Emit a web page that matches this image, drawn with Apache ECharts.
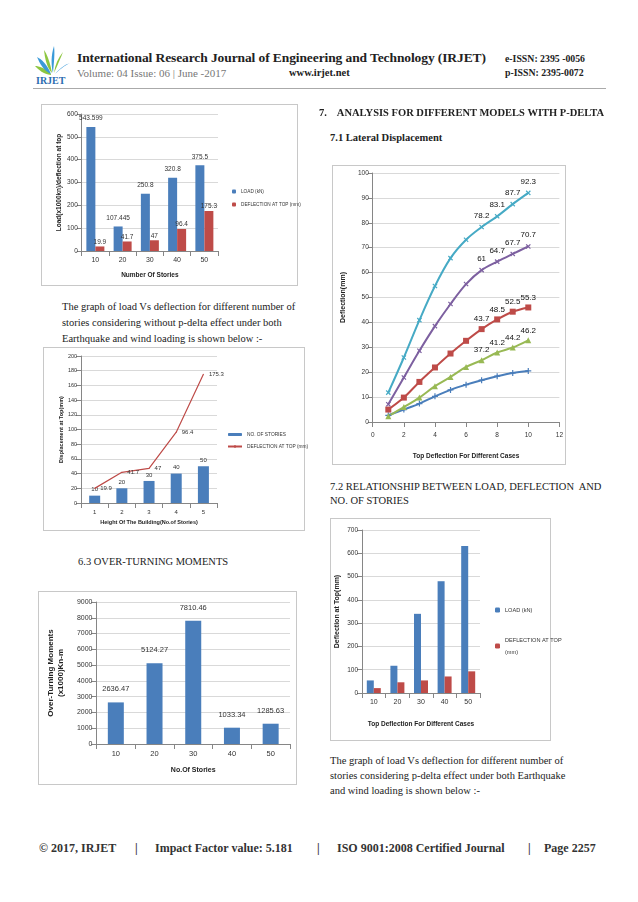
<!DOCTYPE html>
<html><head><meta charset="utf-8">
<script src="https://cdn.jsdelivr.net/npm/echarts@6/dist/echarts.min.js"></script>
<style>
html,body{margin:0;padding:0;background:#fff;}
body{width:638px;height:902px;position:relative;overflow:hidden;font-family:"Liberation Serif","DejaVu Serif",serif;}
.t{position:absolute;white-space:nowrap;color:#222;}
.b{font-weight:bold;}
.box{position:absolute;border:1px solid #c8c8c8;box-sizing:border-box;background:#fff;}
.ch{position:absolute;}
</style></head>
<body>
<!-- header -->
<svg style="position:absolute;left:33px;top:44px" width="42" height="42" viewBox="0 0 42 42">
  <path d="M18,30 C12,24 6,22 2,22 C6,26 10,30 18,31Z" fill="#8dc63f"/>
  <path d="M18,30 C14,20 8,15 4,13 C7,20 11,27 18,30Z" fill="#3a9ad9"/>
  <path d="M19,29 C17,18 14,10 11,6 C12,15 14,24 19,29Z" fill="#8dc63f"/>
  <path d="M20,29 C21,18 22,9 21,2 C18,11 18,21 20,29Z" fill="#3a9ad9"/>
  <path d="M21,29 C25,20 28,13 30,8 C25,14 22,21 21,29Z" fill="#8dc63f"/>
  <path d="M22,30 C28,24 33,21 37,19 C31,21 26,25 22,30Z" fill="#3a9ad9"/>
  <text x="3" y="40" font-family="Liberation Serif" font-size="10" fill="#2b6cb0" font-weight="bold">IRJET</text>
</svg>
<div class="t b" style="left:77px;top:50px;font-size:13.5px;letter-spacing:-0.1px">International Research Journal of Engineering and Technology (IRJET)</div>
<div class="t b" style="left:505px;top:53px;font-size:9.8px">e-ISSN: 2395 -0056</div>
<div class="t" style="left:77px;top:67px;font-size:11px;color:#777">Volume: 04 Issue: 06 | June -2017</div>
<div class="t b" style="left:289px;top:67px;font-size:10.5px">www.irjet.net</div>
<div class="t b" style="left:505px;top:67px;font-size:9.8px">p-ISSN: 2395-0072</div>
<div style="position:absolute;left:33px;top:88px;width:573px;height:1px;background:#aaa"></div>

<!-- left column -->
<div class="box" style="left:41px;top:104px;width:257px;height:182px"></div>
<div id="c1" class="ch" style="left:41px;top:104px;width:280px;height:182px"></div>
<div class="t" style="left:62px;top:299px;font-size:10.5px;line-height:16px">The graph of load Vs deflection for different number of<br>stories considering without p-delta effect under both<br>Earthquake and wind loading is shown below :-</div>
<div class="box" style="left:43px;top:347px;width:262px;height:184px"></div>
<div id="c2" class="ch" style="left:43px;top:347px;width:280px;height:184px"></div>
<div class="t" style="left:78px;top:556px;font-size:10.5px">6.3 OVER-TURNING MOMENTS</div>
<div class="box" style="left:38px;top:591px;width:259px;height:194px"></div>
<div id="c3" class="ch" style="left:38px;top:591px;width:259px;height:194px"></div>

<!-- right column -->
<div class="t b" style="left:319px;top:107px;font-size:10.5px">7.&nbsp;&nbsp;&nbsp; ANALYSIS FOR DIFFERENT MODELS WITH P-DELTA</div>
<div class="t b" style="left:330px;top:132px;font-size:10.5px">7.1 Lateral Displacement</div>
<div class="box" style="left:332px;top:165px;width:234px;height:300px"></div>
<div id="c4" class="ch" style="left:332px;top:165px;width:234px;height:300px"></div>
<div class="t" style="left:330px;top:480px;font-size:10.5px;line-height:13.5px">7.2 RELATIONSHIP BETWEEN LOAD, DEFLECTION&nbsp; AND<br>NO. OF STORIES</div>
<div class="box" style="left:330px;top:518px;width:221px;height:223px"></div>
<div id="c5" class="ch" style="left:330px;top:518px;width:240px;height:223px"></div>
<div class="t" style="left:330px;top:753px;font-size:10.5px;line-height:15px">The graph of load Vs deflection for different number of<br>stories considering p-delta effect under both Earthquake<br>and wind loading is shown below :-</div>

<!-- footer -->
<div class="t b" style="left:39px;top:841px;font-size:12px;color:#333">© 2017, IRJET</div>
<div class="t b" style="left:135px;top:841px;font-size:12px;color:#333">|</div>
<div class="t b" style="left:155px;top:841px;font-size:12px;color:#333">Impact Factor value: 5.181</div>
<div class="t b" style="left:317px;top:841px;font-size:12px;color:#333">|</div>
<div class="t b" style="left:337px;top:841px;font-size:12px;color:#333">ISO 9001:2008 Certified Journal</div>
<div class="t b" style="left:528px;top:841px;font-size:12px;color:#333">|</div>
<div class="t b" style="left:544px;top:841px;font-size:12px;color:#333">Page 2257</div>

<script>
// ---------- data ----------
const c1Categories = ['10', '20', '30', '40', '50'];
const c1Load = [543.599, 107.445, 250.8, 320.8, 375.5];
const c1Defl = [19.9, 41.7, 47, 96.4, 175.3];

const c2Categories = ['1', '2', '3', '4', '5'];
const c2Stories = [10, 20, 30, 40, 50];
const c2Defl = [19.9, 41.7, 47, 96.4, 175.3];

const c3Categories = ['10', '20', '30', '40', '50'];
const c3Moments = [2636.47, 5124.27, 7810.46, 1033.34, 1285.63];

const c4X = [1, 2, 3, 4, 5, 6, 7, 8, 9, 10];
const c4Blue = [2.7, 5, 7.4, 10.3, 12.9, 15, 16.8, 18.4, 19.7, 20.5];
const c4Green = [2.3, 6, 9.8, 14.4, 18.1, 22.1, 24.8, 27.9, 29.9, 32.8];
const c4Red = [5, 9.8, 16.1, 21.9, 27.5, 32.6, 37.3, 41.2, 44.3, 46];
const c4Purple = [7.1, 17.9, 28.6, 38.5, 47.4, 55.4, 61, 64.4, 67.5, 70.5];
const c4Cyan = [11.8, 25.9, 40.9, 54.6, 65.8, 73.2, 78.3, 82.6, 87.5, 92];
const c4GreenLabels = ['', '', '', '', '', '', '37.2', '41.2', '44.2', '46.2'];
const c4RedLabels = ['', '', '', '', '', '', '43.7', '48.5', '52.5', '55.3'];
const c4PurpleLabels = ['', '', '', '', '', '', '61', '64.7', '67.7', '70.7'];
const c4CyanLabels = ['', '', '', '', '', '', '78.2', '83.1', '87.7', '92.3'];

const c5Categories = ['10', '20', '30', '40', '50'];
const c5Load = [54, 117, 340, 480, 631];
const c5Defl = [21, 46, 54, 71, 93];

// ---------- style ----------
const FONT = '"Liberation Sans Narrow","Liberation Sans",sans-serif';
const BLUE = '#4a7ebb', RED = '#be4b48', GREEN = '#98b954', PURPLE = '#7d60a0', CYAN = '#46aac5';
const AX = '#868686', GRID = '#d9d9d9', TXT = '#333';
const plain = v => String(v);

function catAxis(data, size, name, gap, extra) {
  return Object.assign({
    type: 'category', data: data,
    axisLine: {lineStyle: {color: AX}}, axisTick: {show: true, lineStyle: {color: AX}},
    axisLabel: {color: TXT, fontSize: size, fontFamily: FONT, margin: 6},
    name: name, nameLocation: 'middle', nameGap: gap,
    nameTextStyle: {color: '#222', fontSize: size - 0.5, fontWeight: 'bold', fontFamily: FONT}
  }, extra || {});
}
function valAxis(min, max, interval, size, name, gap, extra) {
  return Object.assign({
    type: 'value', min: min, max: max, interval: interval,
    axisLine: {show: true, lineStyle: {color: AX}}, axisTick: {show: true, lineStyle: {color: AX}},
    splitLine: {lineStyle: {color: GRID}},
    axisLabel: {color: TXT, fontSize: size, fontFamily: FONT, margin: 4, formatter: plain},
    name: name, nameLocation: 'middle', nameGap: gap, nameRotate: 90,
    nameTextStyle: {color: '#222', fontSize: size, fontWeight: 'bold', fontFamily: FONT}
  }, extra || {});
}

// ---------- chart 1 ----------
echarts.init(document.getElementById('c1')).setOption({
  animation: false,
  grid: {left: 27, width: 150, top: 10, bottom: 35},
  legend: {orient: 'vertical', left: 186, top: 80, itemWidth: 4, itemHeight: 4, itemGap: 8,
    textStyle: {fontSize: 4.7, color: TXT, fontFamily: FONT}},
  xAxis: catAxis(c1Categories, 7, 'Number Of Stories', 21),
  yAxis: valAxis(0, 600, 100, 6.5, 'Load(x1000kn)/deflection at top', 16),
  series: [
    {name: 'LOAD (kN)', type: 'bar', data: c1Load, barWidth: 9, barGap: '0%', itemStyle: {color: BLUE},
      label: {show: true, position: 'top', fontSize: 6.5, color: TXT, fontFamily: FONT, distance: 5, formatter: p => plain(p.value)}},
    {name: 'DEFLECTION AT TOP (mm)', type: 'bar', data: c1Defl, barWidth: 9, itemStyle: {color: RED},
      label: {show: true, position: 'top', fontSize: 6.5, color: TXT, fontFamily: FONT, distance: 1}}
  ]
});

// ---------- chart 2 ----------
echarts.init(document.getElementById('c2')).setOption({
  animation: false,
  grid: {left: 28, width: 146, top: 9, bottom: 28},
  legend: {orient: 'vertical', left: 179, top: 80, itemWidth: 14, itemHeight: 3, itemGap: 7,
    textStyle: {fontSize: 4.8, color: TXT, fontFamily: FONT}},
  xAxis: catAxis(c2Categories, 6, 'Height Of The Building(No.of Stories)', 15),
  yAxis: valAxis(0, 200, 20, 5.5, 'Displacement at Top(mm)', 17),
  series: [
    {name: 'NO. OF STORIES', type: 'bar', data: c2Stories, barWidth: 11, itemStyle: {color: BLUE},
      label: {show: true, position: 'top', fontSize: 6, color: TXT, fontFamily: FONT, distance: 3}},
    {name: 'DEFLECTION AT TOP (mm)', type: 'line', data: c2Defl, symbol: 'circle', symbolSize: 1,
      lineStyle: {color: RED, width: 1.2}, itemStyle: {color: RED},
      label: {show: true, position: 'right', fontSize: 6, color: TXT, fontFamily: FONT, distance: 5}}
  ]
});

// ---------- chart 3 ----------
echarts.init(document.getElementById('c3')).setOption({
  animation: false,
  grid: {left: 50, right: 7, top: 11, bottom: 41},
  xAxis: catAxis(c3Categories, 7.5, 'No.Of Stories', 23),
  yAxis: valAxis(0, 9000, 1000, 7, 'Over-Turning Moments\n(x1000)Kn-m', 24,
    {nameTextStyle: {color: '#222', fontSize: 8, fontWeight: 'bold', fontFamily: FONT, lineHeight: 10}}),
  series: [
    {type: 'bar', data: c3Moments, barWidth: 16, itemStyle: {color: BLUE},
      label: {show: true, position: 'top', fontSize: 7.5, color: TXT, fontFamily: FONT, distance: 9, formatter: p => plain(p.value)}}
  ]
});

// ---------- chart 4 ----------
const plusPath = 'path://M4,0 L6,0 L6,4 L10,4 L10,6 L6,6 L6,10 L4,10 L4,6 L0,6 L0,4 L4,4Z';
function lineSeries(data, color, symbol, rot, labels) {
  return {
    type: 'line', data: c4X.map((x, i) => [x, data[i]]), smooth: 0.35,
    symbol: symbol, symbolSize: 6, symbolRotate: rot,
    lineStyle: {color: color, width: 2}, itemStyle: {color: color},
    label: {show: !!labels, position: 'top', distance: 3, fontSize: 8, color: '#111', fontFamily: FONT,
      formatter: p => labels ? labels[p.dataIndex] : ''}
  };
}
echarts.init(document.getElementById('c4')).setOption({
  animation: false,
  grid: {left: 19, right: 5, top: 8, bottom: 43},
  xAxis: {type: 'value', min: 0, max: 12, interval: 2,
    axisLine: {lineStyle: {color: AX}}, axisTick: {show: true, lineStyle: {color: AX}},
    splitLine: {show: false},
    axisLabel: {color: TXT, fontSize: 6.5, fontFamily: FONT, margin: 10},
    name: 'Top Deflection For Different Cases', nameLocation: 'middle', nameGap: 31,
    nameTextStyle: {color: '#222', fontSize: 6.5, fontWeight: 'bold', fontFamily: FONT}},
  yAxis: valAxis(0, 100, 10, 6.5, 'Deflection(mm)', 13,
    {nameTextStyle: {color: '#222', fontSize: 7, fontWeight: 'bold', fontFamily: '"Liberation Sans",sans-serif'}}),
  series: [
    lineSeries(c4Blue, BLUE, plusPath, 0, null),
    lineSeries(c4Green, GREEN, 'triangle', 0, c4GreenLabels),
    lineSeries(c4Red, RED, 'rect', 0, c4RedLabels),
    lineSeries(c4Purple, PURPLE, plusPath, 45, c4PurpleLabels),
    lineSeries(c4Cyan, CYAN, plusPath, 45, c4CyanLabels)
  ]
});

// ---------- chart 5 ----------
echarts.init(document.getElementById('c5')).setOption({
  animation: false,
  grid: {left: 32, width: 118, top: 12, bottom: 48},
  legend: {orient: 'vertical', left: 160, top: 81, itemWidth: 5, itemHeight: 5, itemGap: 18,
    textStyle: {fontSize: 5.6, color: TXT, fontFamily: FONT, lineHeight: 12}},
  xAxis: catAxis(c5Categories, 7, 'Top Deflection For Different Cases', 28),
  yAxis: valAxis(0, 700, 100, 6.5, 'Deflection at Top(mm)', 21,
    {nameTextStyle: {color: '#222', fontSize: 7, fontWeight: 'bold', fontFamily: '"Liberation Sans",sans-serif'}}),
  series: [
    {name: 'LOAD (kN)', type: 'bar', data: c5Load, barWidth: 7, barGap: '0%', itemStyle: {color: BLUE}},
    {name: 'DEFLECTION AT TOP\n(mm)', type: 'bar', data: c5Defl, barWidth: 7, itemStyle: {color: RED}}
  ]
});
</script>
</body></html>
